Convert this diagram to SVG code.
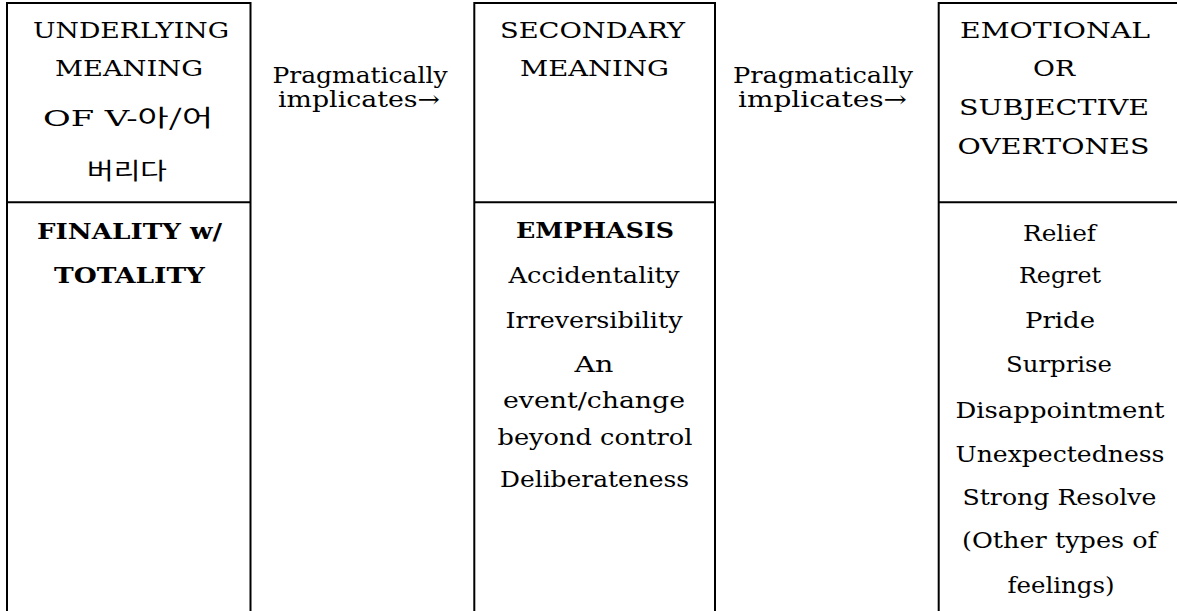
<svg xmlns="http://www.w3.org/2000/svg" width="1177" height="611" viewBox="0 0 1177 611">
<style>
.frame{fill:none;stroke:#000;stroke-width:2;}
text{font-family:"DejaVu Serif","Noto Sans CJK KR",serif;font-size:23px;fill:#000;text-anchor:middle;}
.b{font-weight:bold;}
.k{font-family:"Noto Sans CJK KR",sans-serif;}
</style>
<rect width="1177" height="611" fill="#fff"/>
<g id="node-underlying">
<path class="frame" d="M7,611 V3 H250.5 V611 M7,202.3 H250.5"/>
<text x="131" y="38" textLength="196" lengthAdjust="spacingAndGlyphs">UNDERLYING</text>
<text x="129" y="76" textLength="148" lengthAdjust="spacingAndGlyphs">MEANING</text>
<text x="128" y="126" textLength="170" lengthAdjust="spacingAndGlyphs">OF V-<tspan class="k">아/어</tspan></text>
<text class="k" x="127" y="179" textLength="80" lengthAdjust="spacingAndGlyphs">버리다</text>
<text class="b" x="129.5" y="239" textLength="185" lengthAdjust="spacingAndGlyphs">FINALITY w/</text>
<text class="b" x="129.5" y="283" textLength="151" lengthAdjust="spacingAndGlyphs">TOTALITY</text>
</g>
<g id="node-secondary">
<path class="frame" d="M474.3,611 V3 H715 V611 M474.3,202.3 H715"/>
<text x="592.5" y="38" textLength="185" lengthAdjust="spacingAndGlyphs">SECONDARY</text>
<text x="594.5" y="76" textLength="149" lengthAdjust="spacingAndGlyphs">MEANING</text>
<text class="b" x="595" y="238" textLength="158" lengthAdjust="spacingAndGlyphs">EMPHASIS</text>
<text x="594" y="283" textLength="171" lengthAdjust="spacingAndGlyphs">Accidentality</text>
<text x="594" y="328" textLength="177" lengthAdjust="spacingAndGlyphs">Irreversibility</text>
<text x="594" y="372" textLength="39" lengthAdjust="spacingAndGlyphs">An</text>
<text x="594" y="408" textLength="182" lengthAdjust="spacingAndGlyphs">event/change</text>
<text x="595" y="445" textLength="195" lengthAdjust="spacingAndGlyphs">beyond control</text>
<text x="594.5" y="487" textLength="189" lengthAdjust="spacingAndGlyphs">Deliberateness</text>
</g>
<g id="node-emotional">
<path class="frame" d="M938.7,611 V3 H1177 M938.7,202.3 H1177"/>
<text x="1055" y="38" textLength="190" lengthAdjust="spacingAndGlyphs">EMOTIONAL</text>
<text x="1054" y="76" textLength="42" lengthAdjust="spacingAndGlyphs">OR</text>
<text x="1054" y="115" textLength="190" lengthAdjust="spacingAndGlyphs">SUBJECTIVE</text>
<text x="1053.5" y="154" textLength="192" lengthAdjust="spacingAndGlyphs">OVERTONES</text>
<text x="1059.5" y="241" textLength="73" lengthAdjust="spacingAndGlyphs">Relief</text>
<text x="1060" y="283" textLength="82" lengthAdjust="spacingAndGlyphs">Regret</text>
<text x="1060" y="328" textLength="70" lengthAdjust="spacingAndGlyphs">Pride</text>
<text x="1059" y="372" textLength="106" lengthAdjust="spacingAndGlyphs">Surprise</text>
<text x="1060" y="418" textLength="209" lengthAdjust="spacingAndGlyphs">Disappointment</text>
<text x="1060" y="462" textLength="209" lengthAdjust="spacingAndGlyphs">Unexpectedness</text>
<text x="1059.5" y="505" textLength="194" lengthAdjust="spacingAndGlyphs">Strong Resolve</text>
<text x="1059.5" y="548" textLength="195" lengthAdjust="spacingAndGlyphs">(Other types of</text>
<text x="1061" y="593" textLength="107" lengthAdjust="spacingAndGlyphs">feelings)</text>
</g>
<g id="connectors">
<g id="link-1">
<text x="360" y="83" textLength="175" lengthAdjust="spacingAndGlyphs">Pragmatically</text>
<text x="359" y="107" textLength="162" lengthAdjust="spacingAndGlyphs">implicates→</text>
</g>
<g id="link-2">
<text x="823" y="83" textLength="180" lengthAdjust="spacingAndGlyphs">Pragmatically</text>
<text x="822.5" y="107" textLength="169" lengthAdjust="spacingAndGlyphs">implicates→</text>
</g>
</g>
</svg>
